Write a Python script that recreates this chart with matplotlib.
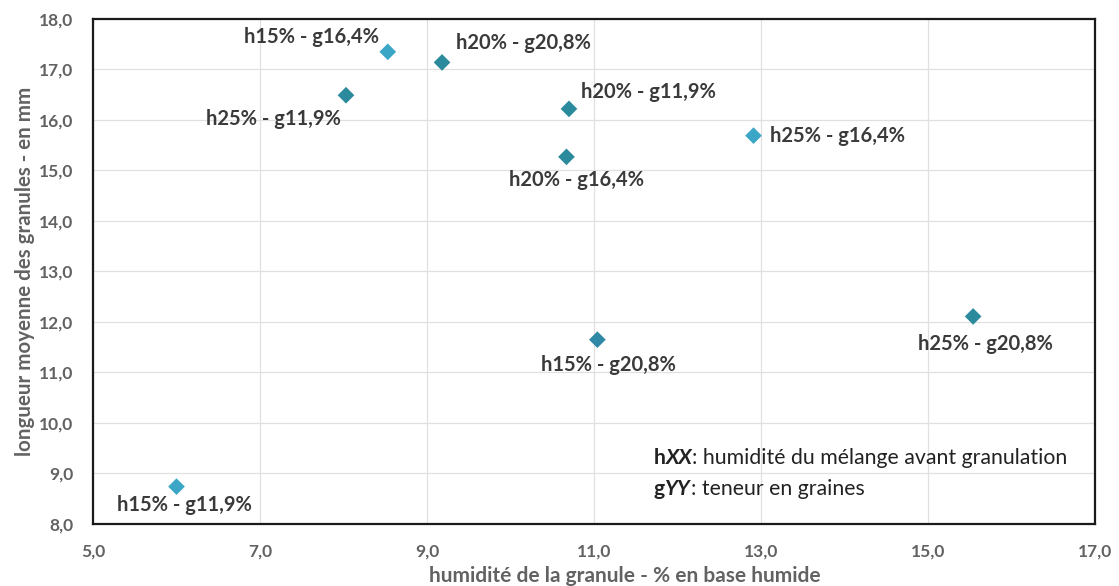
import matplotlib.pyplot as plt
from matplotlib.ticker import FuncFormatter

plt.rcParams['font.family'] = ['Lato', 'DejaVu Sans']

# --- Data ---
labels = ['h15% - g16,4%', 'h20% - g20,8%', 'h25% - g11,9%', 'h20% - g11,9%',
          'h25% - g16,4%', 'h20% - g16,4%', 'h15% - g20,8%', 'h25% - g20,8%',
          'h15% - g11,9%']
humidity = [8.53, 9.18, 8.03, 10.70, 12.91, 10.67, 11.04, 15.54, 6.00]
length_mm = [17.35, 17.14, 16.49, 16.22, 15.69, 15.27, 11.65, 12.11, 8.74]
x_ticks = [5, 7, 9, 11, 13, 15, 17]
y_ticks = [8, 9, 10, 11, 12, 13, 14, 15, 16, 17, 18]

# --- Style ---
LIGHT = '#3ba6c6'
DARK = '#2b8a9c'
MID = '#2f88a6'
point_colors = [LIGHT, DARK, DARK, DARK, LIGHT, DARK, MID, DARK, LIGHT]
# label placement: (dx, dy) in points, horizontal alignment
label_pos = [((-6, 11), 'right'), ((10, 14), 'left'), ((-4, -17), 'right'),
             ((9, 12), 'left'), ((12, 0), 'left'), ((7, -17), 'center'),
             ((8, -18), 'center'), ((9, -20), 'center'), ((6, -13), 'center')]

fig = plt.figure(figsize=(11.19, 5.86), dpi=100)
ax = fig.add_axes([0.0831, 0.1058, 0.8955, 0.8618])

ax.scatter(humidity, length_mm, marker='D', s=72, c=point_colors, zorder=3,
           linewidths=0)

for x, y, lab, ((dx, dy), ha) in zip(humidity, length_mm, labels, label_pos):
    ax.annotate(lab, (x, y), xytext=(dx, dy), textcoords='offset points',
                ha=ha, va='center', fontsize=14.5, fontweight='bold',
                color='#3a3a3a', zorder=4)

ax.set_xlim(5, 17)
ax.set_ylim(8, 18)
ax.set_xticks(x_ticks)
ax.set_yticks(y_ticks)
fmt = FuncFormatter(lambda v, p: f'{v:.1f}'.replace('.', ','))
ax.xaxis.set_major_formatter(fmt)
ax.yaxis.set_major_formatter(fmt)

ax.grid(True, color='#e0e0e0', linewidth=0.9)
ax.set_axisbelow(True)
for sp in ax.spines.values():
    sp.set_linewidth(1.6)
    sp.set_color('#1a1a1a')

ax.tick_params(length=0, pad=14, labelsize=12.5, labelcolor='#626262')
for t in ax.get_xticklabels() + ax.get_yticklabels():
    t.set_fontweight('bold')

ax.set_xlabel('humidité de la granule - % en base humide', fontsize=15,
              fontweight='bold', color='#626262')
ax.xaxis.set_label_coords(0.531, -0.083)
ax.set_ylabel('longueur moyenne des granules - en mm', fontsize=14.8,
              fontweight='bold', color='#626262', labelpad=3)

# Key for the label codes, mixing bold / bold italic / regular
def key_line(y, prefix, code, rest):
    t1 = ax.text(0.5595, y, prefix, transform=ax.transAxes, fontsize=15.3,
                 fontweight='bold', color='#222222', va='baseline')
    t2 = ax.annotate(code, xy=(1, 0), xycoords=t1, fontsize=15.3,
                     fontweight='bold', fontstyle='italic', color='#222222',
                     va='bottom')
    ax.annotate(rest, xy=(1, 0), xycoords=t2, fontsize=15.3, color='#222222',
                va='bottom')

key_line(0.119, 'h', 'XX', ': humidité du mélange avant granulation')
key_line(0.058, 'g', 'YY', ': teneur en graines')

fig.savefig('out.png', dpi=100)
